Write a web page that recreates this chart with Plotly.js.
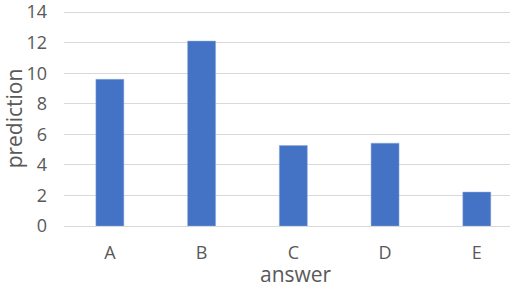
<!DOCTYPE html>
<html>
<head>
<meta charset="utf-8">
<script src="https://cdn.plot.ly/plotly-3.0.1.min.js"></script>
<style>html,body{margin:0;padding:0;background:#fff;}#chart{width:510px;height:286px;}</style>
</head>
<body>
<div id="chart"></div>
<script>
const categories = ["A", "B", "C", "D", "E"];
const prediction = [9.6, 12.1, 5.27, 5.42, 2.22];
const yTicks = [0, 2, 4, 6, 8, 10, 12, 14];

const trace = {
  type: "bar",
  x: categories,
  y: prediction,
  width: 0.305,
  marker: {color: "#4472C4", line: {color: "#8faadc", width: 0.5}},
  hoverinfo: "x+y"
};

const layout = {
  width: 510,
  height: 286,
  margin: {l: 64, r: 0, t: 11, b: 60},
  paper_bgcolor: "#ffffff",
  plot_bgcolor: "#ffffff",
  font: {family: "Open Sans, sans-serif", color: "#595959"},
  showlegend: false,
  xaxis: {
    type: "category",
    range: [-0.5, 4.362],
    showgrid: false,
    showline: false,
    zeroline: false,
    ticks: "",
    tickfont: {size: 18, color: "#595959"},
    ticklabelstandoff: 14
  },
  yaxis: {
    range: [0, 14.07],
    tickvals: yTicks,
    ticktext: yTicks.map(String),
    showgrid: true,
    gridcolor: "#d9d9d9",
    gridwidth: 1,
    zeroline: true,
    zerolinecolor: "#d9d9d9",
    zerolinewidth: 1,
    showline: false,
    ticks: "",
    tickfont: {size: 18, color: "#595959"},
    ticklabelstandoff: 16,
    ticklabeloverflow: "allow",
    title: {text: "prediction", font: {size: 21, color: "#595959"}, standoff: 0}
  },
  annotations: [{
    text: "answer",
    xref: "paper", yref: "paper",
    x: (296 - 64) / 446, y: -48 / 215,
    xanchor: "center", yanchor: "middle",
    showarrow: false,
    font: {size: 21, color: "#595959"}
  }]
};

Plotly.newPlot("chart", [trace], layout, {displayModeBar: false, staticPlot: true});
</script>
</body>
</html>
